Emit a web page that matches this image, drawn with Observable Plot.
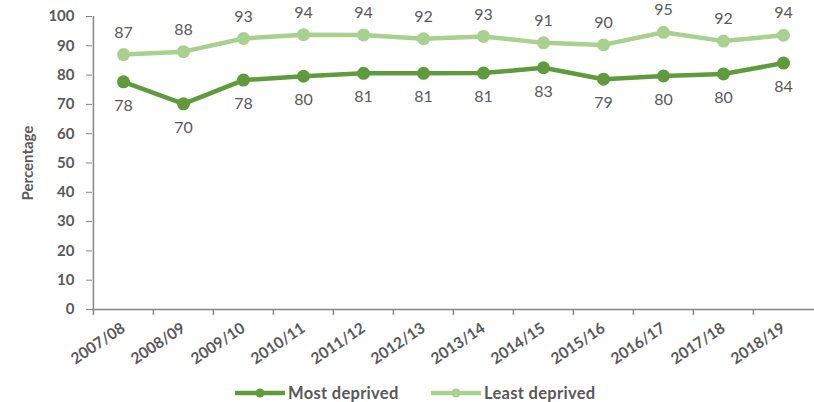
<!DOCTYPE html>
<html>
<head>
<meta charset="utf-8">
<script src="https://cdn.jsdelivr.net/npm/d3@7"></script>
<script src="https://cdn.jsdelivr.net/npm/@observablehq/plot@0.6"></script>
<style>
  body { margin: 0; background: #fff; font-family: Lato, "Open Sans", sans-serif; }
  #legend { position: relative; height: 24px; width: 814px; }
  .item { position: absolute; top: 5px; display: flex; align-items: center; font-weight: bold; font-size: 16.5px; color: #595959; letter-spacing: 0.3px; }
  .item svg { margin-right: 3px; }
</style>
</head>
<body>
<div id="chart"></div>
<div id="legend"></div>
<script>
const years = ["2007/08","2008/09","2009/10","2010/11","2011/12","2012/13","2013/14","2014/15","2015/16","2016/17","2017/18","2018/19"];
const mostDeprived = [77.7, 70.2, 78.3, 79.6, 80.6, 80.6, 80.7, 82.5, 78.6, 79.7, 80.4, 84.1];
const leastDeprived = [87.0, 88.0, 92.5, 93.8, 93.7, 92.4, 93.2, 91.0, 90.3, 94.6, 91.6, 93.6];
const mostLabels = [78, 70, 78, 80, 81, 81, 81, 83, 79, 80, 80, 84];
const leastLabels = [87, 88, 93, 94, 94, 92, 93, 91, 90, 95, 92, 94];
const yTicks = [0,10,20,30,40,50,60,70,80,90,100];

const darkGreen = "#5f9b3d";
const lightGreen = "#a9d18e";
const grey = "#595959";

const most = years.map((y, i) => ({year: y, value: mostDeprived[i], label: mostLabels[i]}));
const least = years.map((y, i) => ({year: y, value: leastDeprived[i], label: leastLabels[i]}));

const W = 814, ML = 92, MR = 0;
const bw = (W - ML - MR) / years.length;

const chart = Plot.plot({
  width: W,
  height: 378,
  marginLeft: ML,
  marginRight: MR,
  marginTop: 16,
  marginBottom: 69,
  style: {fontFamily: "Lato, 'Open Sans', sans-serif", color: grey, background: "#fff"},
  x: {type: "band", domain: years, padding: 0},
  y: {domain: [0, 100]},
  marks: [
    Plot.axisY({ticks: yTicks, tickSize: 6, tickPadding: 12, fontSize: 15, fontWeight: "bold", stroke: "#868686", label: null}),
    Plot.axisY({ticks: [], tickSize: 0, label: "Percentage", labelAnchor: "center", labelArrow: "none", labelOffset: 70, fontSize: 15, fontWeight: "bold"}),
    Plot.ruleX([0], {x: () => years[0], dx: -bw / 2, y1: 0, y2: 100, stroke: "#868686", strokeWidth: 1.5}),
    Plot.ruleY([0], {stroke: "#868686", strokeWidth: 1.5}),
    Plot.ruleX(years, {x: d => d, dx: -bw / 2, y1: 0, y2: -2, stroke: "#868686", strokeWidth: 1.5}),
    Plot.axisX({tickSize: 0, tickPadding: 17, tickRotate: -34, fontSize: 15.5, fontWeight: "bold", label: null}),
    Plot.line(least, {x: "year", y: "value", stroke: lightGreen, strokeWidth: 4.5}),
    Plot.dot(least, {x: "year", y: "value", fill: lightGreen, r: 6.5}),
    Plot.text(least, {x: "year", y: "value", text: "label", dy: -22, fontSize: 16, fill: grey}),
    Plot.line(most, {x: "year", y: "value", stroke: darkGreen, strokeWidth: 4.5}),
    Plot.dot(most, {x: "year", y: "value", fill: darkGreen, r: 6.5}),
    Plot.text(most, {x: "year", y: "value", text: "label", dy: 24, fontSize: 16, fill: grey})
  ]
});
document.getElementById("chart").appendChild(chart);

const legendItems = [["Most deprived", darkGreen, 235], ["Least deprived", lightGreen, 431]];
const legend = document.getElementById("legend");
for (const [name, color, left] of legendItems) {
  const div = document.createElement("div");
  div.className = "item";
  div.style.left = left + "px";
  div.innerHTML = `<svg width="50" height="12"><line x1="1" y1="6" x2="49" y2="6" stroke="${color}" stroke-width="4.5" stroke-linecap="round"/><circle cx="25" cy="6" r="4.5" fill="${color}"/></svg><span>${name}</span>`;
  legend.appendChild(div);
}
</script>
</body>
</html>
